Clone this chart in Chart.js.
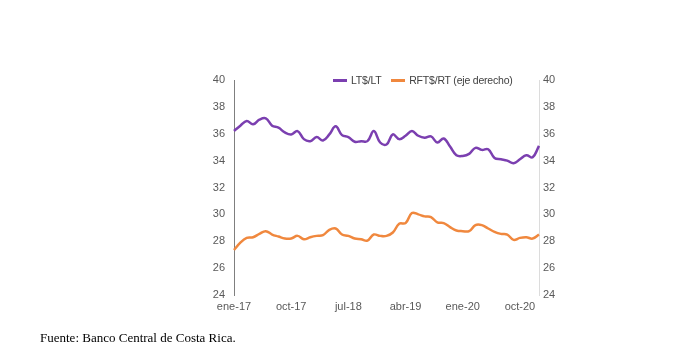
<!DOCTYPE html>
<html>
<head>
<meta charset="utf-8">
<script src="https://cdn.jsdelivr.net/npm/chart.js@4"></script>
<style>
  body { margin: 0; background: #fff; }
  #wrap { position: relative; width: 674px; height: 345px; }
  #legend { position: absolute; top: 74px; left: 333px; font: 10.5px "Liberation Sans", Arial, sans-serif; color: #404040; white-space: nowrap; letter-spacing: -0.2px; }
  #legend span.sw { display: inline-block; width: 14px; height: 3px; vertical-align: middle; margin-right: 4px; position: relative; top: -1px; }
  #legend span.item { margin-right: 7px; }
  #source { position: absolute; left: 40px; top: 330px; font: 13px "Liberation Serif", "Times New Roman", serif; color: #000; }
</style>
</head>
<body>
<div id="wrap">
  <canvas id="chart" width="674" height="345"></canvas>
  <div id="legend">
    <span class="item"><span class="sw" style="background:#7b3fb0"></span>LT$/LT</span>
    <span class="item"><span class="sw" style="background:#f0883e"></span>RFT$/RT (eje derecho)</span>
  </div>
  <div id="source">Fuente: Banco Central de Costa Rica.</div>
</div>
<script>
// ====================== data ======================
const months = ['ene', 'feb', 'mar', 'abr', 'may', 'jun', 'jul', 'ago', 'sep', 'oct', 'nov', 'dic'];
const years = ['17', '18', '19', '20', '21'];

// monthly categories ene-17 .. ene-21
const labels = [];
years.forEach(y => months.forEach(m => labels.push(m + '-' + y)));
labels.length = 49;

const ltValues = [
  36.2, 36.6, 36.95, 36.7, 37.05, 37.15, 36.6, 36.45, 36.1, 35.95, 36.2, 35.6,
  35.45, 35.75, 35.5, 35.95, 36.55, 35.9, 35.75, 35.4, 35.45, 35.45, 36.2, 35.35,
  35.2, 35.95, 35.6, 35.85, 36.2, 35.85, 35.7, 35.8, 35.35, 35.65, 35.05, 34.4,
  34.35, 34.5, 34.95, 34.8, 34.85, 34.2, 34.1, 34.0, 33.8, 34.1, 34.4, 34.25,
  35.1
];

const rftValues = [
  27.35, 27.9, 28.25, 28.3, 28.55, 28.75, 28.5, 28.35, 28.2, 28.2, 28.4, 28.15,
  28.3, 28.4, 28.45, 28.85, 28.95, 28.5, 28.4, 28.2, 28.15, 28.05, 28.5, 28.4,
  28.4, 28.65, 29.3, 29.35, 30.1, 30.0, 29.85, 29.8, 29.4, 29.35, 29.05, 28.8,
  28.75, 28.75, 29.2, 29.2, 28.95, 28.7, 28.55, 28.5, 28.1, 28.25, 28.3, 28.2,
  28.5
];

const yMin = 24, yMax = 40, yStep = 2;
const xTickEvery = 9;

// ====================== chart ======================
const tickFont = { family: '"Liberation Sans", Arial, sans-serif', size: 11 };
const tickColor = '#595959';

new Chart(document.getElementById('chart'), {
  type: 'line',
  data: {
    labels: labels,
    datasets: [
      {
        label: 'LT$/LT',
        data: ltValues,
        borderColor: '#7b3fb0',
        borderWidth: 2.5,
        pointRadius: 0,
        tension: 0.4,
        yAxisID: 'y'
      },
      {
        label: 'RFT$/RT (eje derecho)',
        data: rftValues,
        borderColor: '#f0883e',
        borderWidth: 2.5,
        pointRadius: 0,
        tension: 0.4,
        yAxisID: 'y1'
      }
    ]
  },
  options: {
    responsive: false,
    animation: false,
    devicePixelRatio: 1,
    layout: { padding: { top: 80, left: 0, right: 0, bottom: 0 } },
    plugins: {
      legend: { display: false },
      tooltip: { enabled: false }
    },
    scales: {
      x: {
        offset: false,
        grid: { display: false, drawTicks: false },
        border: { display: false },
        ticks: {
          autoSkip: false,
          maxRotation: 0,
          padding: 5,
          font: tickFont,
          color: tickColor,
          callback: function (val, i) {
            return i % xTickEvery === 0 ? labels[i] : '';
          }
        },
        afterFit: s => { s.height = 50; }
      },
      y: {
        position: 'left',
        min: yMin,
        max: yMax,
        grid: { display: false, drawTicks: false },
        border: { display: true, color: '#7f7f7f', width: 1 },
        ticks: { stepSize: yStep, padding: 9, font: tickFont, color: tickColor },
        afterFit: s => { s.width = 234; }
      },
      y1: {
        position: 'right',
        min: yMin,
        max: yMax,
        grid: { display: false, drawTicks: false },
        border: { display: true, color: '#dcdcdc', width: 1 },
        ticks: { stepSize: yStep, padding: 4, font: tickFont, color: tickColor },
        afterFit: s => { s.width = 135; }
      }
    }
  }
});
</script>
</body>
</html>
